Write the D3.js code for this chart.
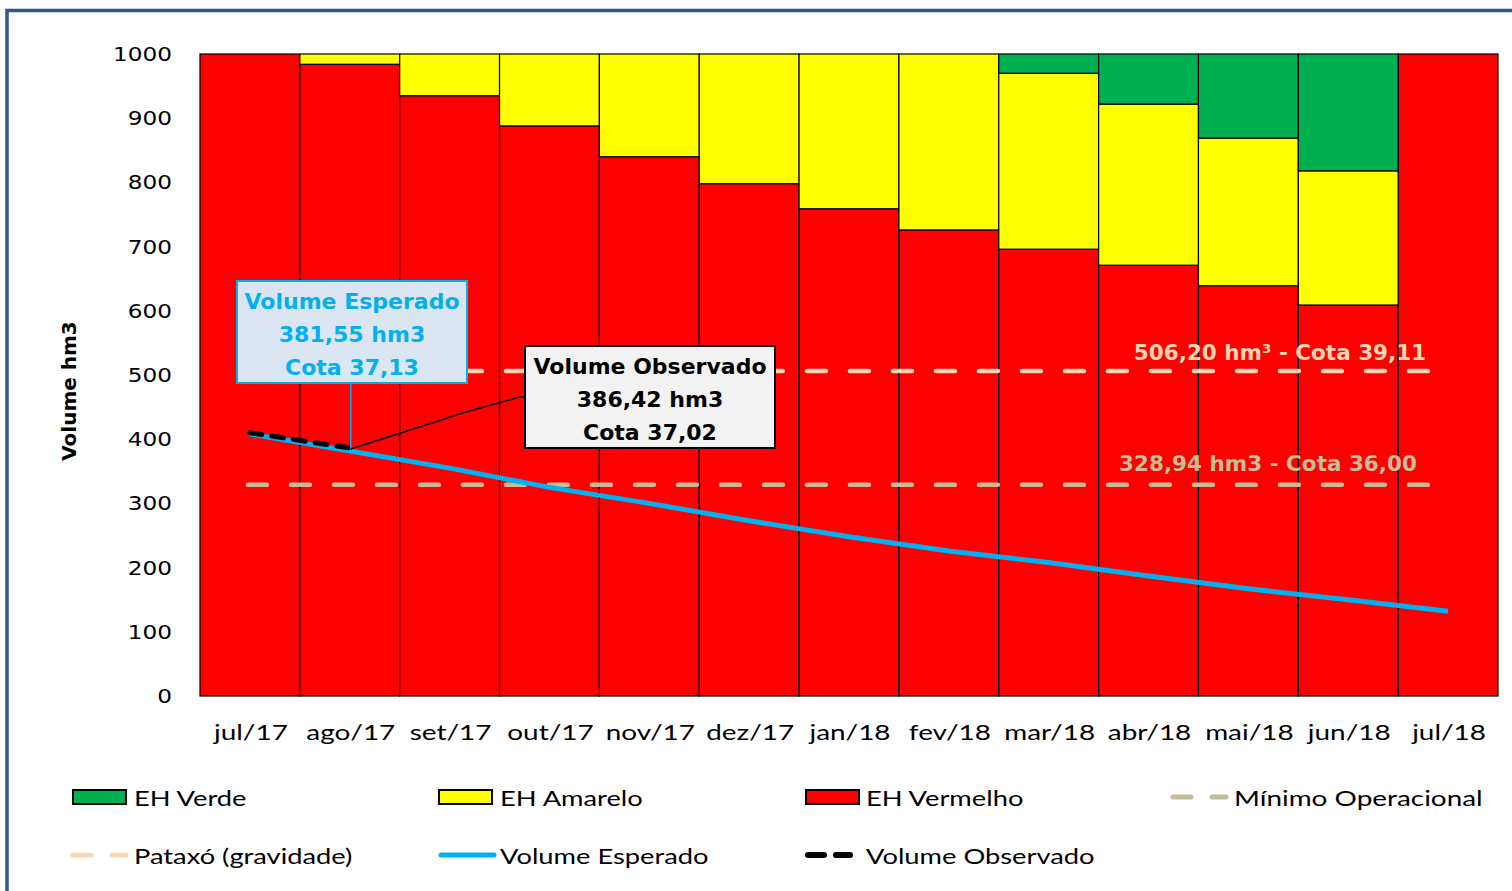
<!DOCTYPE html>
<html><head><meta charset="utf-8">
<script src="https://cdn.jsdelivr.net/npm/d3@7"></script>
<style>html,body{margin:0;padding:0;background:#fff;overflow:hidden}</style>
</head><body>
<svg id="chart" width="1512" height="891"></svg>
<script>
// ---- data ----
const months = ["jul/17","ago/17","set/17","out/17","nov/17","dez/17","jan/18","fev/18","mar/18","abr/18","mai/18","jun/18","jul/18"];
const ehVermelho = [1000,984,935,888,840,798,759,726,696,671,639,609,1000];
const ehAmarelo  = [0,16,65,112,160,202,241,274,274,251,230,209,0];
const ehVerde    = [0,0,0,0,0,0,0,0,30,78,131,182,0];
const volEsperado = [408,381.55,355,325,300,273,248,226,208,187,167,150,132];
const obsMonths = ["jul/17","ago/17"];
const volObservado = [410,386.42];
const pataxo = 506.20;
const minimoOperacional = 328.94;
const yTicks = [0,100,200,300,400,500,600,700,800,900,1000];

const svg = d3.select("#chart");
const x = d3.scaleBand().domain(months).range([200, 1498]).padding(0);
const y = d3.scaleLinear().domain([0, 1000]).range([696, 54]);
const cx = m => x(m) + x.bandwidth() / 2;

function stext(g, str, tx, ty, opt) {
  return g.append("text")
    .attr("transform", `translate(${tx},${ty}) scale(${opt.sx || 1},1)`)
    .attr("text-anchor", opt.anchor || "start")
    .attr("font-family", opt.family || "Lato")
    .attr("font-size", opt.size || 21)
    .attr("font-weight", opt.weight || "normal")
    .attr("fill", opt.fill || "#000")
    .text(str);
}

// frame
svg.append("rect").attr("x", 7).attr("y", 10.5).attr("width", 1540).attr("height", 900)
  .attr("fill", "none").attr("stroke", "#2F578C").attr("stroke-width", 3.5);

// stacked bars
const stackData = months.map((m, i) => ({m, red: ehVermelho[i], yel: ehAmarelo[i], grn: ehVerde[i]}));
const series = d3.stack().keys(["red", "yel", "grn"])(stackData);
const colors = {red: "#FF0000", yel: "#FFFF00", grn: "#00B050"};
const gBars = svg.append("g");
series.forEach(s => {
  gBars.selectAll(null).data(s.filter(d => d[1] - d[0] > 0)).join("rect")
    .attr("x", d => x(d.data.m))
    .attr("width", x.bandwidth())
    .attr("y", d => y(d[1]))
    .attr("height", d => y(d[0]) - y(d[1]))
    .attr("fill", colors[s.key])
    .attr("stroke", "#000").attr("stroke-width", 1.2);
});

// reference lines
const refLine = (val, color) => svg.append("line")
  .attr("x1", cx(months[0]) - 2).attr("x2", cx(months[months.length - 1]) - 8)
  .attr("y1", y(val)).attr("y2", y(val))
  .attr("stroke", color).attr("stroke-width", 4.5)
  .attr("stroke-dasharray", "19 24").attr("stroke-linecap", "round");
refLine(pataxo, "#FBD4B4");
refLine(minimoOperacional, "#C4BD97");

// ref labels
stext(svg, "506,20 hm³ - Cota 39,11", 1280, 360, {anchor: "middle", family: "DejaVu Sans", size: 21.5, weight: "bold", fill: "#FBD4B4"});
stext(svg, "328,94 hm3 - Cota 36,00", 1268, 471, {anchor: "middle", family: "DejaVu Sans", size: 21.5, weight: "bold", fill: "#C4BD97"});

// expected line
const line = d3.line().x(d => cx(d.m)).y(d => y(d.v));
svg.append("path")
  .datum(months.map((m, i) => ({m, v: volEsperado[i]})))
  .attr("d", line).attr("fill", "none").attr("stroke", "#00B0F0").attr("stroke-width", 5);

// observed line
svg.append("path")
  .datum(obsMonths.map((m, i) => ({m, v: volObservado[i]})))
  .attr("d", line).attr("fill", "none").attr("stroke", "#000").attr("stroke-width", 5)
  .attr("stroke-dasharray", "12 10").attr("stroke-linecap", "round");

// annotation leaders
const ax = cx("ago/17"), ayE = y(volEsperado[1]), ayO = y(volObservado[1]);
svg.append("line").attr("x1", ax + 1).attr("x2", ax + 1).attr("y1", 383).attr("y2", ayE - 2)
  .attr("stroke", "#00B0F0").attr("stroke-width", 1.5);
svg.append("polyline").attr("points", `${ax + 1},${ayO + 1} 466,412 520,397 525,397`)
  .attr("fill", "none").attr("stroke", "#000").attr("stroke-width", 1.5);

// annotation boxes
svg.append("rect").attr("x", 237).attr("y", 281).attr("width", 230).attr("height", 102)
  .attr("fill", "#DCE6F2").attr("stroke", "#00B0F0").attr("stroke-width", 2);
[["Volume Esperado", 309], ["381,55 hm3", 342], ["Cota 37,13", 375]].forEach(([t, yy]) =>
  stext(svg, t, 352, yy, {anchor: "middle", family: "DejaVu Sans", size: 22, weight: "bold", fill: "#00B0F0"}));
svg.append("rect").attr("x", 525).attr("y", 346).attr("width", 250).attr("height", 102)
  .attr("fill", "#F2F2F2").attr("stroke", "#000").attr("stroke-width", 2);
[["Volume Observado", 374], ["386,42 hm3", 407], ["Cota 37,02", 440]].forEach(([t, yy]) =>
  stext(svg, t, 650, yy, {anchor: "middle", family: "DejaVu Sans", size: 22, weight: "bold", fill: "#000"}));

// y axis labels
yTicks.forEach(v => stext(svg, String(v), 172, y(v) + 7, {anchor: "end", family: "DejaVu Sans", size: 20, sx: 1.16}));
// y title
svg.append("text").attr("transform", `translate(76,391) rotate(-90)`)
  .attr("text-anchor", "middle").attr("font-family", "DejaVu Sans").attr("font-weight", "bold")
  .attr("font-size", 20).text("Volume hm3");

// x labels
months.forEach(m => stext(svg, m, cx(m) + 1, 740, {anchor: "middle", size: 21, sx: 1.33}));

// legend
const lg = svg.append("g");
const legSw = (x0, yc, fill) => lg.append("rect").attr("x", x0).attr("y", yc - 7).attr("width", 53).attr("height", 14)
  .attr("fill", fill).attr("stroke", "#000").attr("stroke-width", 2);
const legDash = (x0, x1, yc, color, dash, w) => lg.append("line").attr("x1", x0).attr("x2", x1).attr("y1", yc).attr("y2", yc)
  .attr("stroke", color).attr("stroke-width", w).attr("stroke-linecap", "round").attr("stroke-dasharray", dash);
legSw(73, 797, "#00B050"); stext(lg, "EH Verde", 134, 806, {size: 21, sx: 1.3});
legSw(439, 797, "#FFFF00"); stext(lg, "EH Amarelo", 500, 806, {size: 21, sx: 1.3});
legSw(806, 797, "#FF0000"); stext(lg, "EH Vermelho", 866, 806, {size: 21, sx: 1.3});
legDash(1173, 1226, 797, "#C4BD97", "18 21", 5); stext(lg, "Mínimo Operacional", 1234, 806, {size: 21, sx: 1.33});
legDash(73, 126, 855, "#FBD4B4", "18 21", 5); stext(lg, "Pataxó (gravidade)", 134, 864, {size: 21, sx: 1.3});
lg.append("line").attr("x1", 441).attr("x2", 494).attr("y1", 855).attr("y2", 855)
  .attr("stroke", "#00B0F0").attr("stroke-width", 5).attr("stroke-linecap", "round");
stext(lg, "Volume Esperado", 500, 864, {size: 21, sx: 1.3});
legDash(808, 850, 855, "#000", "16 12", 6); stext(lg, "Volume Observado", 866, 864, {size: 21, sx: 1.3});
</script>
</body></html>
